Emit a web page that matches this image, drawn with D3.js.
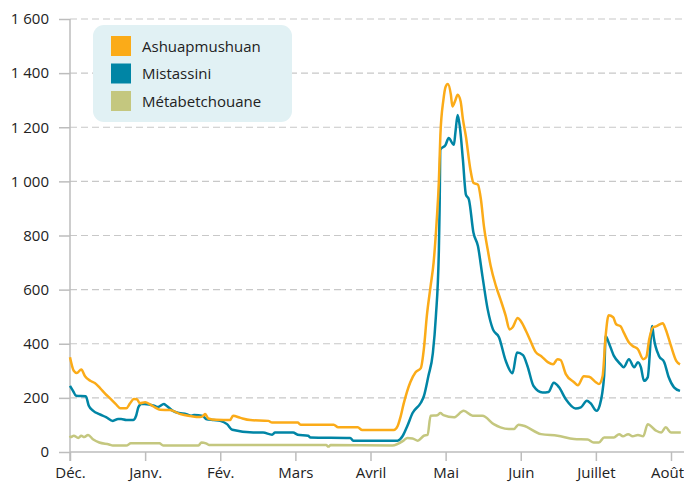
<!DOCTYPE html>
<html>
<head>
<meta charset="utf-8">
<script src="https://cdn.jsdelivr.net/npm/d3@7"></script>
<style>
  body { margin: 0; background: #fff; }
  svg text { font-family: "Open Sans", sans-serif; fill: #222; }
</style>
</head>
<body>
<div id="chart"></div>
<script>
// mois depuis le 1er décembre (0 = Déc., 1 = Janv., ...)
var monthLabels = ['Déc.', 'Janv.', 'Fév.', 'Mars', 'Avril', 'Mai', 'Juin', 'Juillet', 'Août'];
var yTicks = [0, 200, 400, 600, 800, 1000, 1200, 1400, 1600];
var seriesNames = ['Ashuapmushuan', 'Mistassini', 'Métabetchouane'];
var seriesColors = ['#fbab18', '#0085a5', '#c4c77f'];

// débits (m³/s) : [mois, valeur]
var ashuapmushuan = [
    [0.00, 350], [0.05, 300], [0.09, 292], [0.15, 305], [0.20, 280], [0.27, 263], [0.33, 255],
    [0.40, 236], [0.47, 215], [0.53, 199], [0.61, 177], [0.67, 162], [0.75, 162], [0.80, 180],
    [0.85, 196], [0.89, 195], [0.93, 180], [1.00, 184], [1.07, 175], [1.13, 165], [1.20, 156],
    [1.33, 155], [1.47, 140], [1.60, 133], [1.73, 129], [1.77, 133], [1.80, 140], [1.84, 124],
    [1.95, 119], [2.13, 118], [2.17, 134], [2.27, 126], [2.40, 118], [2.64, 115], [2.69, 109],
    [3.03, 109], [3.07, 101], [3.51, 101], [3.57, 91], [3.83, 91], [3.89, 81], [4.31, 81],
    [4.36, 95], [4.40, 130], [4.44, 177], [4.53, 258], [4.60, 295], [4.67, 310], [4.71, 380],
    [4.75, 503], [4.80, 613], [4.84, 700], [4.88, 850], [4.91, 1000], [4.93, 1170], [4.97, 1300],
    [5.00, 1350], [5.03, 1360], [5.07, 1320], [5.09, 1277], [5.13, 1300], [5.16, 1320],
    [5.20, 1295], [5.23, 1230], [5.27, 1166], [5.33, 1043], [5.37, 995], [5.43, 988], [5.47, 933],
    [5.51, 834], [5.56, 748], [5.60, 687], [5.67, 613], [5.73, 564], [5.80, 503], [5.85, 453],
    [5.89, 460], [5.96, 495], [6.00, 484], [6.07, 447], [6.13, 410], [6.20, 369], [6.27, 355],
    [6.36, 332], [6.43, 324], [6.49, 343], [6.53, 340], [6.60, 288], [6.71, 258], [6.76, 247],
    [6.84, 280], [6.91, 278], [7.00, 258], [7.04, 251], [7.09, 281], [7.13, 429], [7.17, 505],
    [7.23, 498], [7.27, 472], [7.33, 464], [7.37, 442], [7.44, 405], [7.49, 392], [7.56, 380],
    [7.63, 343], [7.67, 350], [7.71, 417], [7.76, 461], [7.80, 464], [7.89, 476], [7.93, 453],
    [8.00, 392], [8.07, 337], [8.12, 324]
];

var mistassini = [
    [0.00, 244], [0.04, 226], [0.08, 208], [0.21, 206], [0.25, 171], [0.31, 152], [0.39, 140],
    [0.48, 129], [0.57, 115], [0.64, 122], [0.68, 122], [0.75, 118], [0.84, 118], [0.88, 134],
    [0.91, 165], [0.95, 177], [0.99, 177], [1.12, 171], [1.17, 166], [1.25, 177], [1.28, 172],
    [1.37, 152], [1.45, 144], [1.55, 140], [1.61, 134], [1.65, 137], [1.77, 133], [1.81, 122],
    [1.91, 118], [2.00, 115], [2.09, 103], [2.16, 82], [2.44, 72], [2.57, 72], [2.69, 64],
    [2.73, 72], [2.97, 72], [3.03, 64], [3.17, 60], [3.20, 54], [3.73, 52], [3.77, 42],
    [4.36, 42], [4.43, 60], [4.49, 96], [4.56, 144], [4.67, 182], [4.71, 206], [4.77, 280],
    [4.83, 365], [4.87, 500], [4.91, 745], [4.92, 900], [4.93, 1117], [5.00, 1135], [5.04, 1160],
    [5.11, 1135], [5.13, 1180], [5.16, 1245], [5.19, 1200], [5.23, 1080], [5.27, 951],
    [5.31, 933], [5.37, 811], [5.43, 761], [5.49, 650], [5.56, 527], [5.63, 453], [5.71, 424],
    [5.80, 337], [5.89, 291], [5.95, 368], [6.03, 358], [6.09, 317], [6.17, 244], [6.29, 220],
    [6.37, 222], [6.44, 256], [6.51, 239], [6.60, 195], [6.73, 161], [6.80, 165], [6.88, 189],
    [6.93, 180], [7.01, 152], [7.05, 171], [7.11, 281], [7.13, 429], [7.17, 405], [7.24, 355],
    [7.33, 324], [7.37, 313], [7.44, 343], [7.51, 313], [7.56, 332], [7.60, 313], [7.64, 263],
    [7.69, 276], [7.75, 466], [7.77, 424], [7.84, 355], [7.91, 332], [7.97, 276], [8.04, 239],
    [8.12, 226]
];

var metabetchouane = [
    [0.00, 60], [0.01, 55], [0.05, 60], [0.11, 52], [0.15, 60], [0.19, 55], [0.24, 63],
    [0.31, 46], [0.39, 35], [0.52, 28], [0.57, 24], [0.75, 24], [0.81, 32], [1.19, 32],
    [1.24, 24], [1.71, 24], [1.75, 35], [1.81, 32], [1.85, 26], [3.41, 26], [3.44, 20],
    [3.47, 26], [4.29, 24], [4.44, 42], [4.49, 52], [4.56, 50], [4.63, 42], [4.71, 60],
    [4.76, 63], [4.80, 134], [4.89, 136], [4.93, 144], [4.97, 136], [5.11, 128], [5.24, 152],
    [5.36, 134], [5.49, 134], [5.64, 103], [5.73, 91], [5.84, 85], [5.91, 85], [5.97, 101],
    [6.04, 97], [6.27, 66], [6.49, 60], [6.71, 48], [6.89, 46], [6.97, 35], [7.04, 35],
    [7.11, 54], [7.24, 54], [7.31, 66], [7.36, 58], [7.43, 66], [7.49, 58], [7.56, 63],
    [7.63, 58], [7.69, 103], [7.80, 79], [7.87, 72], [7.93, 91], [8.00, 72], [8.13, 72]
];

var width = 684
    , height = 482
    , margin = {top: 19, right: 0, bottom: 30, left: 70};

var svg = d3.select('#chart').append('svg')
    .attr('width', width)
    .attr('height', height);

var x = d3.scaleLinear()
    .domain([0, 8])
    .range([margin.left, 671]);

var y = d3.scaleLinear()
    .domain([0, 1600])
    .range([height - margin.bottom, margin.top]);

var fmt = function(d) {
    return d3.format(',')(d).replace(/,/g, '\u00a0');
};

// grille pointillée
svg.append('g')
    .selectAll('line')
    .data(yTicks.filter(function(d) { return d > 0; }))
    .enter().append('line')
    .attr('x1', margin.left)
    .attr('x2', width)
    .attr('y1', function(d) { return y(d); })
    .attr('y2', function(d) { return y(d); })
    .attr('stroke', '#c8c8c8')
    .attr('stroke-width', 1.2)
    .attr('stroke-dasharray', '7,4');

// axe y
var yAxis = svg.append('g')
    .attr('transform', 'translate(' + margin.left + ',0)')
    .call(d3.axisLeft(y).tickValues(yTicks).tickFormat(fmt).tickSize(11).tickPadding(10));

// axe x
var xAxis = svg.append('g')
    .attr('transform', 'translate(0,' + y(0) + ')')
    .call(d3.axisBottom(x).tickValues(d3.range(monthLabels.length))
        .tickFormat(function(d) { return monthLabels[d]; })
        .tickSize(9).tickPadding(6));

[yAxis, xAxis].forEach(function(g) {
    g.select('.domain').remove();
    g.selectAll('line').attr('stroke', '#bdbdbd').attr('stroke-width', 1.5);
    g.selectAll('text')
        .style('font-family', '"Open Sans", sans-serif')
        .style('font-size', '15px')
        .attr('fill', '#222');
});

// le dernier mois reste dans le cadre
xAxis.selectAll('.tick:last-of-type text').attr('dx', -4);

// lignes des axes
svg.append('line')
    .attr('x1', margin.left).attr('x2', width)
    .attr('y1', y(0)).attr('y2', y(0))
    .attr('stroke', '#bdbdbd').attr('stroke-width', 1.5);
svg.append('line')
    .attr('x1', margin.left).attr('x2', margin.left)
    .attr('y1', y(1600)).attr('y2', y(0) + 9)
    .attr('stroke', '#bdbdbd').attr('stroke-width', 1.5);

var line = d3.line()
    .x(function(d) { return x(d[0]); })
    .y(function(d) { return y(d[1]); })
    .curve(d3.curveMonotoneX);

var allSeries = [metabetchouane, mistassini, ashuapmushuan];
var drawColors = [seriesColors[2], seriesColors[1], seriesColors[0]];

svg.append('g')
    .selectAll('path')
    .data(allSeries)
    .enter().append('path')
    .attr('d', line)
    .attr('fill', 'none')
    .attr('stroke', function(d, i) { return drawColors[i]; })
    .attr('stroke-width', 2.5)
    .attr('stroke-linejoin', 'round');

// légende
var legend = svg.append('g');
legend.append('rect')
    .attr('x', 93).attr('y', 25)
    .attr('width', 199).attr('height', 97)
    .attr('rx', 11)
    .attr('fill', '#e1f1f4');

var items = legend.selectAll('.item')
    .data(seriesNames)
    .enter().append('g')
    .attr('class', 'item')
    .attr('transform', function(d, i) { return 'translate(111,' + (36 + i * 27.5) + ')'; });

items.append('rect')
    .attr('width', 20).attr('height', 20)
    .attr('fill', function(d, i) { return seriesColors[i]; });

items.append('text')
    .attr('x', 31).attr('y', 15.5)
    .style('font-size', '15px')
    .text(function(d) { return d; });
</script>
</body>
</html>
